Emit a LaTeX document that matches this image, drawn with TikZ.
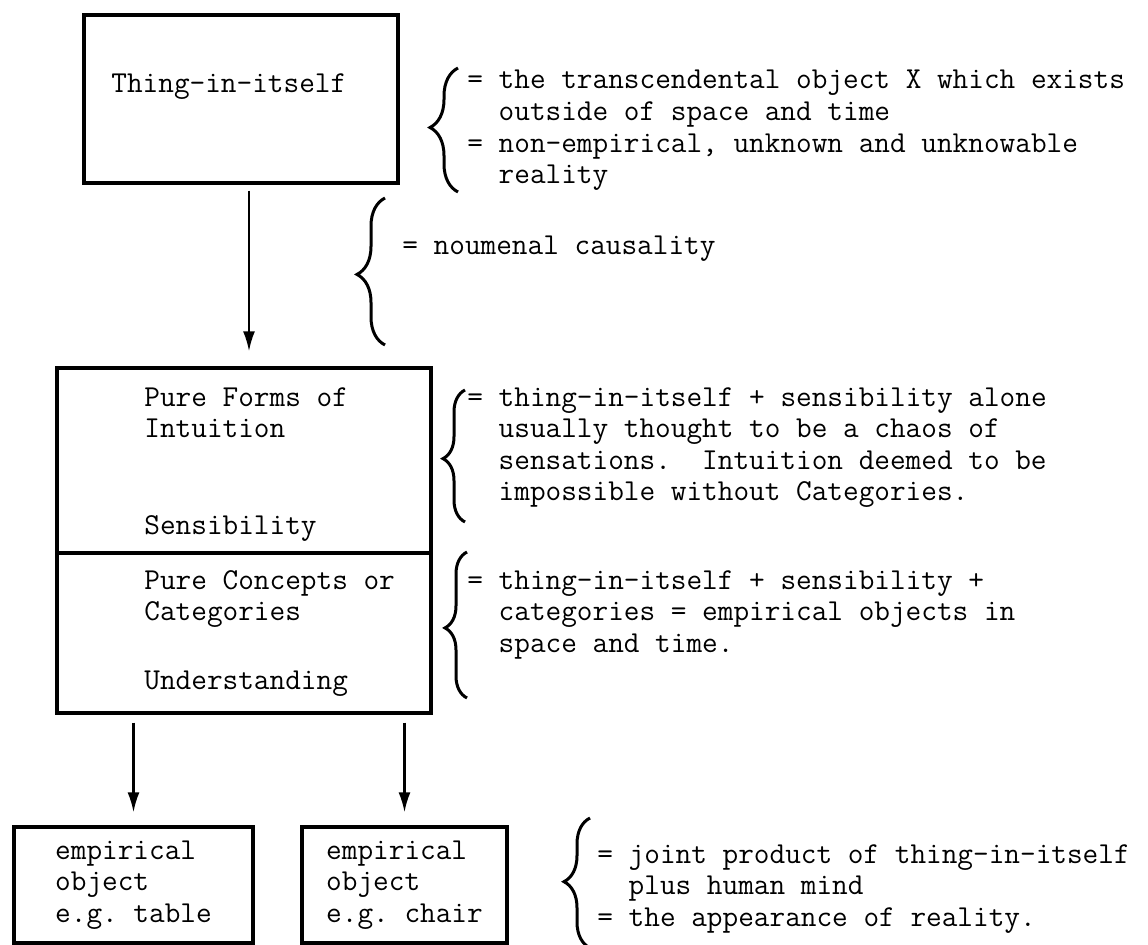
\documentclass[tikz,border=0pt]{standalone}
\usepackage{fontspec}
\usetikzlibrary{arrows.meta, positioning, decorations.pathreplacing}

\begin{document}
\begin{tikzpicture}[
    x=0.5pt, y=-0.5pt,
    every node/.style={font=\ttfamily\fontsize{15.2}{15.8}\selectfont\frenchspacing},
    box/.style={rectangle, draw, line width=1.7pt, inner sep=0pt, align=left},
    gloss/.style={anchor=north west, inner sep=0pt, align=left, execute at begin node=\strut},
    curly/.style 2 args={decorate, decoration={brace, amplitude=#1, aspect=#2}, line width=1.5pt},
    arrow/.style={-{Latex[length=10pt,width=6pt]}, line width=1.1pt}
]
    \useasboundingbox (0,0) rectangle (1148,945);

    \node [box, minimum width=157pt, minimum height=84pt] (thing) at (241,99) {};
    \node [gloss] (thingtxt) at (111,70) {Thing-in-itself};

    \node [box, minimum width=187pt, minimum height=92.5pt] (sens) at (244,460.5) {};
    \node [box, minimum width=187pt, minimum height=80pt] (und) at (244,633) {};
    \node [gloss] (formstxt) at (144,387) {Pure Forms of\\Intuition};
    \node [gloss] (senstxt) at (144,512) {Sensibility};
    \node [gloss] (conctxt) at (144,570) {Pure Concepts or\\Categories};
    \node [gloss] (undtxt) at (144,667) {Understanding};

    \node [box, minimum width=119.5pt, minimum height=58pt] (table) at (133.5,885) {empirical\\object\\e.g. table};
    \node [box, minimum width=102.5pt, minimum height=58pt] (chair) at (404.5,885) {empirical\\object\\e.g. chair};

    \node [gloss] (xgloss) at (467,70) {= the transcendental object X which exists\\\ \ outside of space and time\\= non-empirical, unknown and unknowable\\\ \ reality};
    \node [gloss] (causegloss) at (402,232) {= noumenal causality};
    \node [gloss] (intgloss) at (467,387) {= thing-in-itself + sensibility alone\\\ \ usually thought to be a chaos of\\\ \ sensations.\ \ Intuition deemed to be\\\ \ impossible without Categories.};
    \node [gloss] (catgloss) at (467,570) {= thing-in-itself + sensibility +\\\ \ categories = empirical objects in\\\ \ space and time.};
    \node [gloss] (objgloss) at (597,844) {= joint product of thing-in-itself\\\ \ plus human mind\\= the appearance of reality.};

    \draw [curly={14pt}{0.52}] (458,192) -- (458,68);
    \draw [curly={14pt}{0.48}] (385,345) -- (385,198);
    \draw [curly={11pt}{0.48}] (465,522) -- (465,390);
    \draw [curly={11pt}{0.48}] (467,698) -- (467,552);
    \draw [curly={13pt}{0.51}] (590,948) -- (590,818);

    \coordinate (causetop) at ([xshift=4pt]thing.south);
    \draw [arrow, shorten <=3pt, shorten >=7.5pt] (causetop) -- (causetop |- sens.north);
    \draw [arrow, shorten <=4pt, shorten >=6.5pt] (und.south -| table.north) -- (table.north);
    \draw [arrow, shorten <=4pt, shorten >=6.5pt] (und.south -| chair.north) -- (chair.north);
\end{tikzpicture}
\end{document}
